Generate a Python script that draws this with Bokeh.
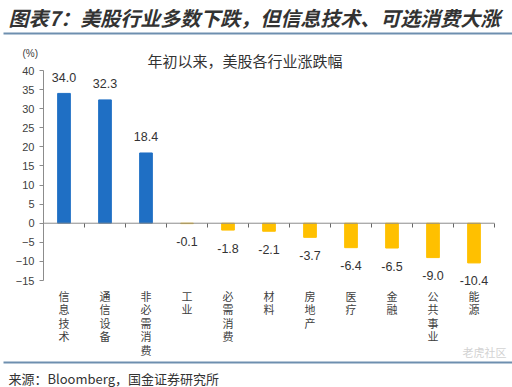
from bokeh.plotting import figure
from bokeh.models import Range1d, FixedTicker, LabelSet, Label, BoxAnnotation, ColumnDataSource
from bokeh.core.properties import value
from bokeh.embed import file_html
from bokeh.resources import INLINE

categories = ["信息技术", "通信设备", "非必需消费", "工业", "必需消费", "材料",
              "房地产", "医疗", "金融", "公共事业", "能源"]
values = [34.0, 32.3, 18.4, -0.1, -1.8, -2.1, -3.7, -6.4, -6.5, -9.0, -10.4]
y_ticks = [-15, -10, -5, 0, 5, 10, 15, 20, 25, 30, 35, 40]

title_text = "图表7：美股行业多数下跌，但信息技术、可选消费大涨"
subtitle_text = "年初以来，美股各行业涨跌幅"
unit_text = "(%)"
source_text = "来源：Bloomberg，国金证券研究所"
watermark_text = "老虎社区"

CJK = "Noto Sans CJK SC"
LAT = "Liberation Sans"

# page geometry (pixels)
W, H = 512, 387
FL, FR, FT, FB = 43, 494, 70, 280   # chart area on the page
n = len(categories)
ux = (FR - FL) / n
uy = (FB - FT) / (y_ticks[-1] - y_ticks[0])
x_start = 0 - FL / ux
x_end = n + (W - FR) / ux
y_end = y_ticks[-1] + FT / uy
y_start = y_ticks[0] - (H - FB) / uy

xs = [i + 0.5 for i in range(n)]
colors = ["#1F6FC4" if v > 0 else "#FFC000" for v in values]
src = ColumnDataSource(dict(
    x=xs, top=values, color=colors,
    lab=[f"{v:.1f}" for v in values],
    off=[16 if v >= 0 else -18 for v in values],
))

# vertical category labels: one row per character
LINE = 13.5
cx, cy, ch, coff = [], [], [], []
for x, name in zip(xs, categories):
    for k, c in enumerate(name):
        cx.append(x)
        cy.append(y_ticks[0])
        ch.append(c)
        coff.append(-15 - LINE * k)
csrc = ColumnDataSource(dict(x=cx, y=cy, ch=ch, off=coff))

p = figure(width=W, height=H, output_backend="svg", toolbar_location=None,
           x_range=Range1d(x_start, x_end), y_range=Range1d(y_start, y_end),
           min_border=0)
p.outline_line_color = None
p.xgrid.grid_line_color = None
p.ygrid.grid_line_color = None
p.background_fill_color = "white"
p.border_fill_color = "white"

p.vbar(x="x", top="top", width=0.31, bottom=0, color="color", source=src)

# axis lines limited to the chart extent
p.segment(x0=[0], y0=[y_ticks[0]], x1=[0], y1=[y_ticks[-1]], line_color="#8c8c8c", line_width=1)
p.segment(x0=[0], y0=[0], x1=[n], y1=[0], line_color="#8c8c8c", line_width=1)

# y axis at x = 0
ya = p.yaxis[0]
ya.fixed_location = 0
ya.ticker = FixedTicker(ticks=y_ticks)
ya.axis_line_color = None
ya.major_tick_line_color = "#8c8c8c"
ya.major_tick_out = 4
ya.major_tick_in = 0
ya.minor_tick_line_color = None
ya.major_label_text_font = LAT
ya.major_label_text_font_size = "11px"
ya.major_label_text_color = "#404040"
ya.major_label_standoff = 5

# x axis at y = 0
xa = p.xaxis[0]
xa.fixed_location = 0
xa.ticker = FixedTicker(ticks=list(range(1, n + 1)))
xa.axis_line_color = None
xa.major_tick_line_color = "#666666"
xa.major_tick_out = 4
xa.major_tick_in = 0
xa.minor_tick_line_color = None
xa.major_label_text_font_size = "0px"
xa.major_label_text_alpha = 0

# value labels
p.add_layout(LabelSet(x="x", y="top", text="lab", y_offset="off", source=src,
                      text_align="center", text_baseline="middle",
                      text_font=value(LAT), text_font_size=value("12.5px"),
                      text_color=value("#333333")))
# category labels (vertical, one character per row)
p.add_layout(LabelSet(x="x", y="y", text="ch", y_offset="off", source=csrc,
                      text_align="center", text_baseline="middle",
                      text_font=value(CJK), text_font_size=value("11px"),
                      text_color=value("#404040")))

def slabel(px, py, text, size, color="#333333", style="normal", font=CJK, align="left"):
    p.add_layout(Label(x=px, y=H - py, x_units="screen", y_units="screen", text=text,
                       text_font=font, text_font_size=size, text_color=color,
                       text_font_style=style, text_align=align, text_baseline="middle"))

slabel(8, 17, title_text, "20px", "#333333", "bold italic")
slabel(147, 60, subtitle_text, "15px", "#333333")
slabel(22, 53, unit_text, "10px", "#404040", font=LAT)
slabel(8, 378, source_text, "13px", "#333333")
slabel(462, 351, watermark_text, "11px", "#d2d2d2")

for py in (33, 362):
    p.add_layout(BoxAnnotation(left=3, right=W, top=H - py + 1, bottom=H - py - 1,
                               left_units="screen", right_units="screen",
                               top_units="screen", bottom_units="screen",
                               fill_color="#6E8FAF", fill_alpha=1, line_color=None))

open("out.html", "w").write(file_html(p, INLINE))
